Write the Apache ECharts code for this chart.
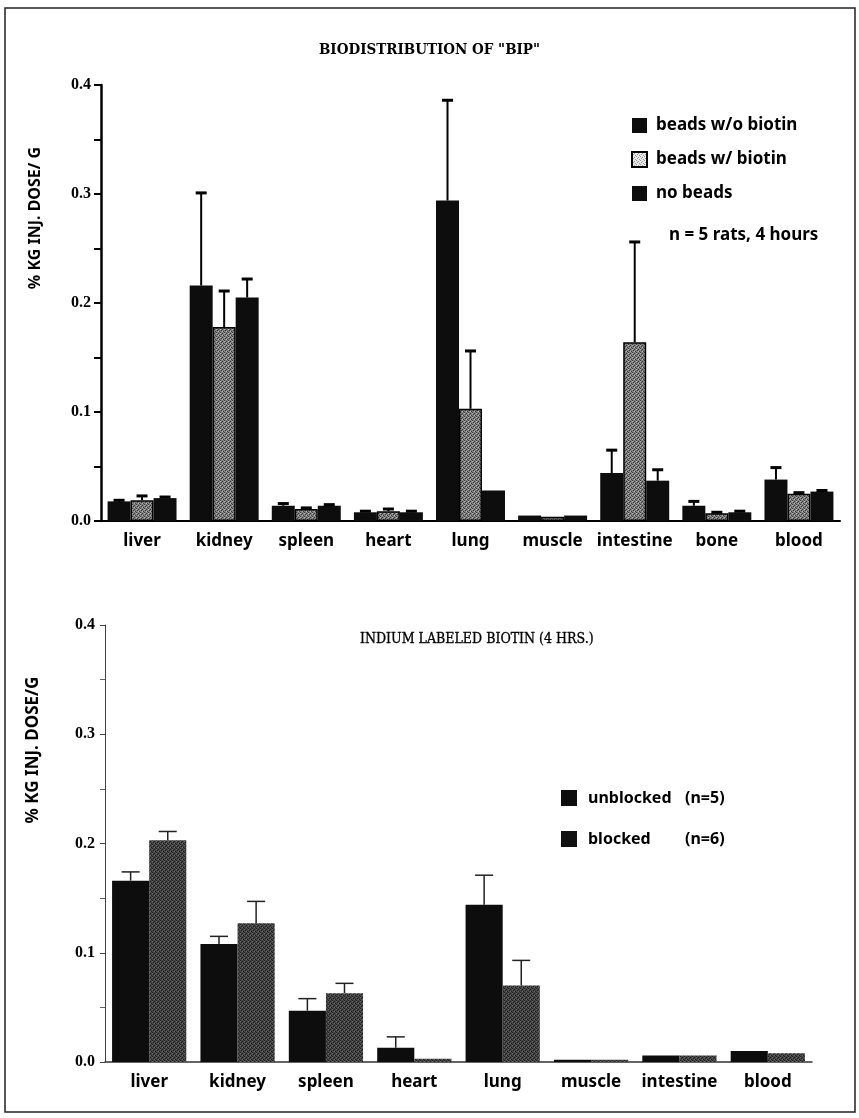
<!DOCTYPE html>
<html><head><meta charset="utf-8">
<script src="https://cdn.jsdelivr.net/npm/echarts@6/dist/echarts.min.js"></script>
<style>html,body{margin:0;padding:0;background:#fff}#c{width:859px;height:1118px}</style>
</head><body><div id="c"></div>
<script>
// ---------- data ----------
const topCategories = ['liver','kidney','spleen','heart','lung','muscle','intestine','bone','blood'];
const topSeriesNames = ['beads w/o biotin','beads w/ biotin','no beads'];
const beadsWithoutBiotin    = [0.018,0.216,0.014,0.008,0.294,0.005,0.044,0.014,0.038];
const beadsWithoutBiotinErr = [0.001,0.085,0.002,0.001,0.092,0.000,0.021,0.004,0.011];
const beadsWithBiotin       = [0.019,0.178,0.011,0.009,0.103,0.004,0.164,0.007,0.025];
const beadsWithBiotinErr    = [0.004,0.033,0.001,0.002,0.053,0.000,0.092,0.001,0.001];
const noBeads               = [0.021,0.205,0.014,0.008,0.028,0.005,0.037,0.008,0.027];
const noBeadsErr            = [0.001,0.017,0.001,0.001,0.000,0.000,0.010,0.001,0.001];

const bottomCategories = ['liver','kidney','spleen','heart','lung','muscle','intestine','blood'];
const bottomSeriesNames = ['unblocked','blocked'];
const bottomSeriesN = ['(n=5)','(n=6)'];
const unblocked    = [0.166,0.108,0.047,0.013,0.144,0.002,0.006,0.010];
const unblockedErr = [0.008,0.007,0.011,0.010,0.027,0.000,0.000,0.000];
const blocked      = [0.203,0.127,0.063,0.003,0.070,0.002,0.006,0.008];
const blockedErr   = [0.008,0.020,0.009,0.000,0.023,0.000,0.000,0.000];

const yTickLabels = ['0.0','0.1','0.2','0.3','0.4'];
const topTitle = 'BIODISTRIBUTION OF "BIP"';
const bottomTitle = 'INDIUM LABELED BIOTIN (4 HRS.)';
const yName = '% KG INJ. DOSE/ G';
const yName2 = '% KG INJ. DOSE/G';
const noteText = 'n = 5 rats, 4 hours';

// ---------- helpers ----------
function makePattern(base, dot, dot2) {
  const cv = document.createElement('canvas');
  cv.width = 4; cv.height = 4;
  const ctx = cv.getContext('2d');
  ctx.fillStyle = base; ctx.fillRect(0,0,4,4);
  ctx.fillStyle = dot;
  [[0,0],[2,1],[1,2],[3,3]].forEach(p => ctx.fillRect(p[0],p[1],1,1));
  if (dot2) { ctx.fillStyle = dot2; [[2,3],[0,1]].forEach(p => ctx.fillRect(p[0],p[1],1,1)); }
  return { image: cv, repeat: 'repeat' };
}
const grayTop = makePattern('#808080', '#3a3a3a', '#b8b8b8');
const grayLegend = makePattern('#e6e6e6', '#9a9a9a');
const grayBottom = makePattern('#454545', '#1e1e1e', '#686868');

const GAP = 0.16;
function errSeries(vals, errs, idx, n, axisIdx, style) {
  return {
    type: 'custom', xAxisIndex: axisIdx, yAxisIndex: axisIdx, z: 5,
    silent: true,
    data: vals.map((v, i) => [i, v, errs[i]]),
    encode: { x: 0, y: 1 },
    renderItem: function (params, api) {
      const c = api.value(0), v = api.value(1), e = api.value(2);
      if (!(e > 0)) return null;
      const band = api.size([1, 0])[0];
      const bw = band * (1 - GAP) / n;
      const p0 = api.coord([c, v]);
      const p1 = api.coord([c, v + e]);
      const x = p0[0] + (idx - (n - 1) / 2) * bw;
      const half = style.cap / 2;
      return {
        type: 'group',
        children: [
          { type: 'line', shape: { x1: x, y1: p0[1], x2: x, y2: p1[1] }, style: { stroke: style.color, lineWidth: style.lw } },
          { type: 'line', shape: { x1: x - half, y1: p1[1], x2: x + half, y2: p1[1] }, style: { stroke: style.color, lineWidth: style.capLw } }
        ]
      };
    }
  };
}

const catFont = { fontFamily: 'Noto Sans', fontWeight: 'bold', fontSize: 17, color: '#000' };
const tickFont = { fontFamily: 'Liberation Serif', fontWeight: 'bold', fontSize: 16, color: '#000' };

const chart = echarts.init(document.getElementById('c'), null, { renderer: 'canvas' });
const topStyle = { color: '#000', lw: 2, capLw: 3, cap: 11 };
const botStyle = { color: '#222', lw: 1.5, capLw: 1.5, cap: 18 };

chart.setOption({
  animation: false,
  backgroundColor: '#fff',
  title: [
    { text: topTitle, left: 'center', top: 38, textStyle: { fontFamily: 'DejaVu Serif Condensed', fontWeight: 'bold', fontSize: 15, color: '#000' } },
    { text: bottomTitle, left: 355, top: 627, textStyle: { fontFamily: 'DejaVu Serif Condensed', fontWeight: 'normal', fontSize: 14, color: '#000', textBorderColor: '#000', textBorderWidth: 0.3 } }
  ],
  legend: [
    {
      orient: 'vertical', left: 626, top: 112, itemWidth: 15, itemHeight: 15, itemGap: 17, icon: 'rect',
      textStyle: { fontFamily: 'Noto Sans', fontWeight: 'bold', fontSize: 17, color: '#000', padding: [0,0,0,4] },
      data: [
        { name: topSeriesNames[0] },
        { name: topSeriesNames[1], itemStyle: { color: grayLegend, borderColor: '#000', borderWidth: 2 } },
        { name: topSeriesNames[2] }
      ]
    },
    {
      orient: 'vertical', left: 556, top: 785, itemWidth: 16, itemHeight: 16, itemGap: 25, icon: 'rect',
      data: [
        { name: bottomSeriesNames[0], itemStyle: { color: '#0d0d0d' } },
        { name: bottomSeriesNames[1], itemStyle: { color: '#111' } }
      ],
      formatter: function (name) {
        const i = bottomSeriesNames.indexOf(name);
        return '{a|' + name + '}{b|' + bottomSeriesN[i] + '}';
      },
      textStyle: {
        padding: [0,0,0,6],
        rich: {
          a: { fontFamily: 'Noto Sans', fontWeight: 'bold', fontSize: 16, color: '#000', width: 97 },
          b: { fontFamily: 'Noto Sans', fontWeight: 'bold', fontSize: 16, color: '#000' }
        }
      }
    }
  ],
  grid: [
    { left: 101, top: 85, width: 739, height: 436 },
    { left: 105, top: 625, width: 707, height: 437 }
  ],
  xAxis: [
    { type: 'category', gridIndex: 0, data: topCategories, axisTick: { show: false },
      axisLine: { lineStyle: { color: '#000', width: 2 } },
      axisLabel: Object.assign({ margin: 12, interval: 0 }, catFont) },
    { type: 'category', gridIndex: 1, data: bottomCategories, axisTick: { show: false },
      axisLine: { lineStyle: { color: '#333', width: 1.5 } },
      axisLabel: Object.assign({ margin: 12, interval: 0 }, catFont) }
  ],
  yAxis: [
    { type: 'value', gridIndex: 0, min: 0, max: 0.4, interval: 0.1, splitLine: { show: false },
      axisLine: { show: true, lineStyle: { color: '#000', width: 2.5 } },
      axisTick: { show: true, length: 7, lineStyle: { color: '#000', width: 2 } },
      minorTick: { show: true, splitNumber: 2, length: 7, lineStyle: { color: '#000', width: 2 } },
      axisLabel: Object.assign({ margin: 10, formatter: v => yTickLabels[Math.round(v * 10)] }, tickFont) },
    { type: 'value', gridIndex: 1, min: 0, max: 0.4, interval: 0.1, splitLine: { show: false },
      axisLine: { show: true, lineStyle: { color: '#444', width: 1 } },
      axisTick: { show: true, length: 5, lineStyle: { color: '#444', width: 1 } },
      minorTick: { show: true, splitNumber: 2, length: 5, lineStyle: { color: '#666', width: 1 } },
      axisLabel: Object.assign({ margin: 10, formatter: v => yTickLabels[Math.round(v * 10)] }, tickFont) }
  ],
  graphic: [
    { type: 'rect', shape: { x: 5, y: 8, width: 850, height: 1104 }, style: { fill: 'none', stroke: '#222', lineWidth: 1.5 }, z: 100 },
    { type: 'text', x: 35, y: 218, rotation: Math.PI / 2,
      style: { text: yName, fontFamily: 'Noto Sans', fontWeight: 'bold', fontSize: 16, fill: '#000', textAlign: 'center', textVerticalAlign: 'middle' } },
    { type: 'text', x: 33, y: 750, rotation: Math.PI / 2,
      style: { text: yName2, fontFamily: 'Noto Sans', fontWeight: 'bold', fontSize: 17, fill: '#000', textAlign: 'center', textVerticalAlign: 'middle' } },
    { type: 'text', x: 669, y: 235,
      style: { text: noteText, fontFamily: 'Noto Sans', fontWeight: 'bold', fontSize: 17, fill: '#000', textAlign: 'left', textVerticalAlign: 'middle' } }
  ],
  series: [
    { name: topSeriesNames[0], type: 'bar', xAxisIndex: 0, yAxisIndex: 0, data: beadsWithoutBiotin,
      barGap: '0%', barCategoryGap: '16%', itemStyle: { color: '#0d0d0d' } },
    { name: topSeriesNames[1], type: 'bar', xAxisIndex: 0, yAxisIndex: 0, data: beadsWithBiotin,
      barGap: '0%', barCategoryGap: '16%', itemStyle: { color: grayTop, borderColor: '#000', borderWidth: 1.5 } },
    { name: topSeriesNames[2], type: 'bar', xAxisIndex: 0, yAxisIndex: 0, data: noBeads,
      barGap: '0%', barCategoryGap: '16%', itemStyle: { color: '#0d0d0d' } },
    errSeries(beadsWithoutBiotin, beadsWithoutBiotinErr, 0, 3, 0, topStyle),
    errSeries(beadsWithBiotin, beadsWithBiotinErr, 1, 3, 0, topStyle),
    errSeries(noBeads, noBeadsErr, 2, 3, 0, topStyle),

    { name: bottomSeriesNames[0], type: 'bar', xAxisIndex: 1, yAxisIndex: 1, data: unblocked,
      barGap: '0%', barCategoryGap: '16%', itemStyle: { color: '#0d0d0d' } },
    { name: bottomSeriesNames[1], type: 'bar', xAxisIndex: 1, yAxisIndex: 1, data: blocked,
      barGap: '0%', barCategoryGap: '16%', itemStyle: { color: grayBottom } },
    errSeries(unblocked, unblockedErr, 0, 2, 1, botStyle),
    errSeries(blocked, blockedErr, 1, 2, 1, botStyle)
  ]
});
</script>
</body></html>
